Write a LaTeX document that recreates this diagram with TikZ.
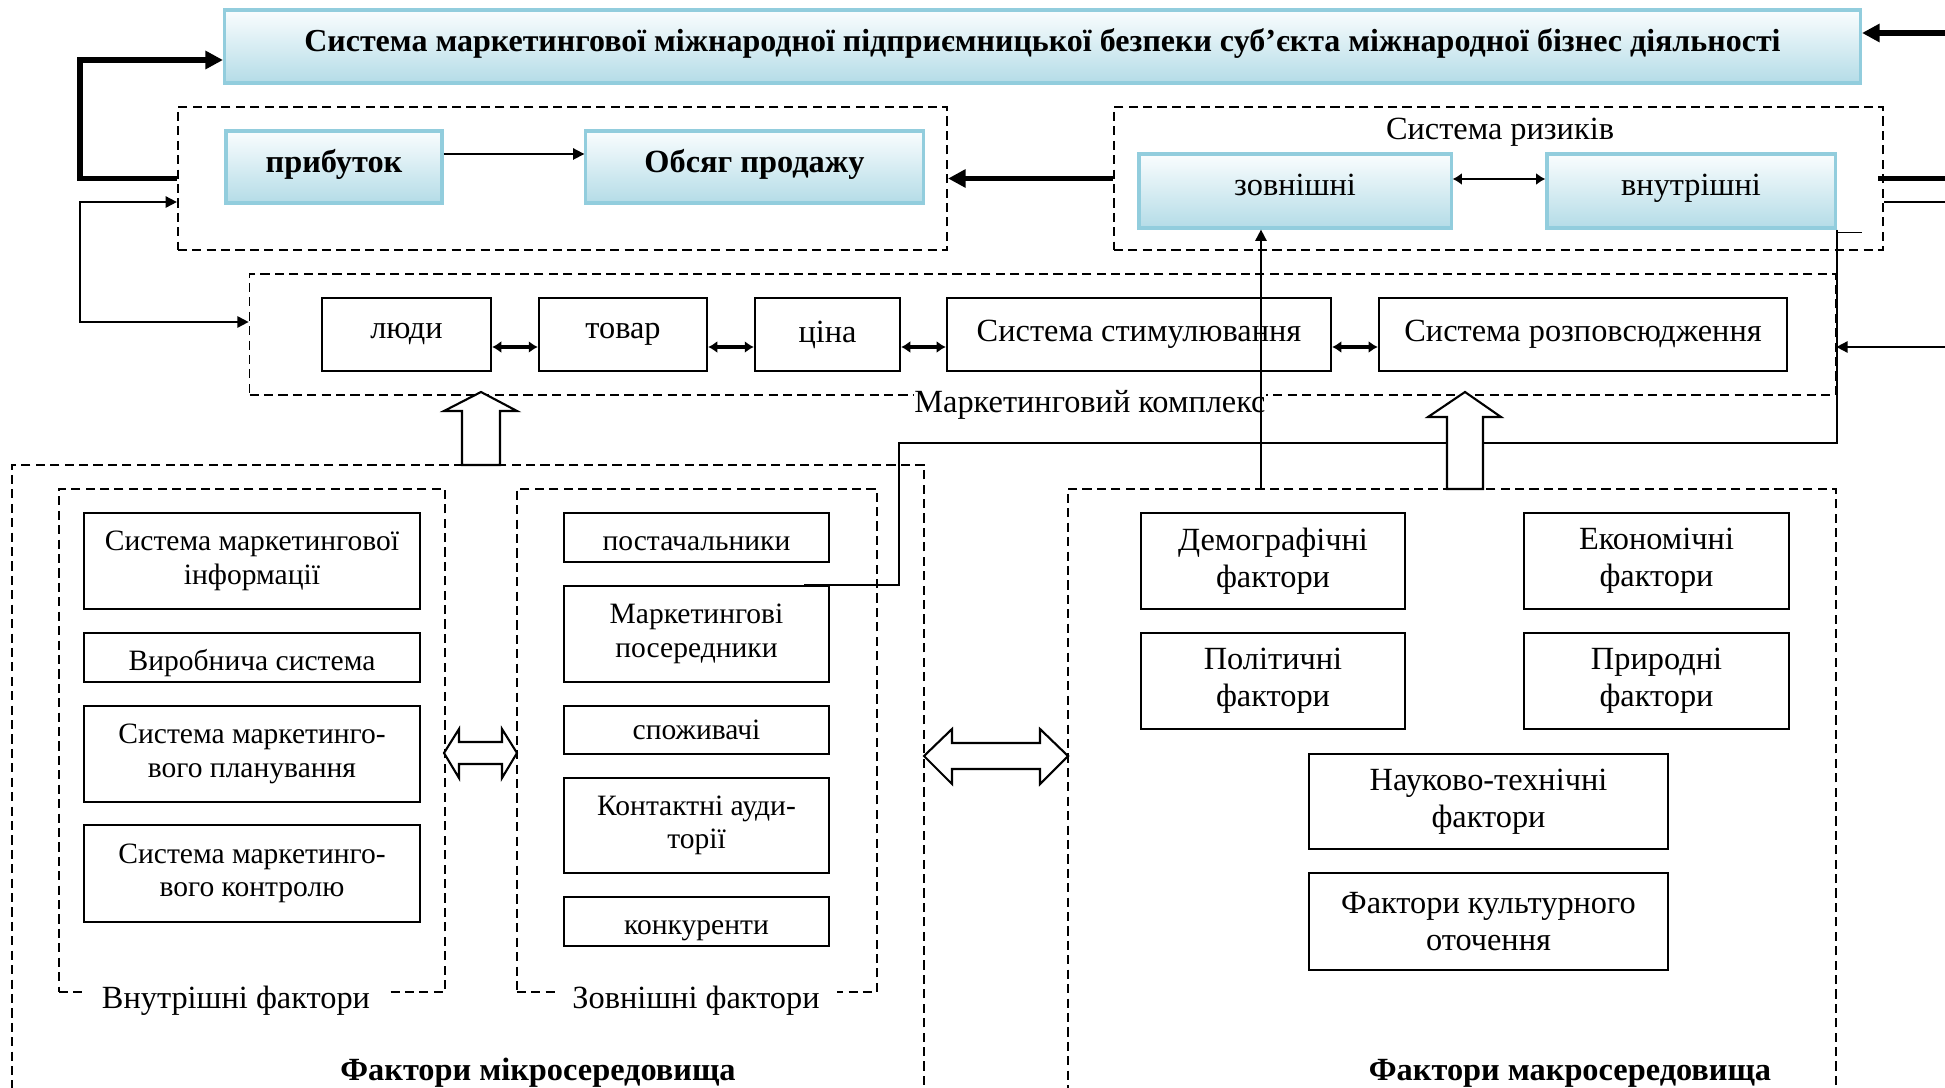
\documentclass[tikz,border=0pt]{standalone}
\usepackage{fontspec}
\setmainfont{Liberation Serif}
\usetikzlibrary{arrows.meta,calc}

\definecolor{boxtop}{RGB}{250,253,254}
\definecolor{boxbottom}{RGB}{180,220,231}
\definecolor{boxedge}{RGB}{146,205,221}

\begin{document}
\begin{tikzpicture}[x=0.01cm, y=-0.01cm,
    every node/.style={font=\fontsize{9.2}{10.4}\selectfont, align=center, inner sep=0pt},
    gradbox/.style={draw=boxedge, line width=0.9pt, top color=boxtop, bottom color=boxbottom, text depth=3.5pt},
    plainbox/.style={draw, line width=0.6pt, fill=white},
    microbox/.style={plainbox, font=\fontsize{8.4}{9.5}\selectfont},
    lowtext/.style={text height=9pt, text depth=1.5pt},
    groupbox/.style={draw, dash pattern=on 2.6pt off 1.5pt, line width=0.5pt},
    grouplabel/.style={anchor=base, fill=white, inner xsep=5pt, inner ysep=1pt},
    thickarr/.style={-{Triangle[length=5pt,width=5pt]}, line width=1.5pt},
    thinarr/.style={-{Triangle[length=3.2pt,width=3.2pt]}, line width=0.5pt},
    bothway/.style={{Latex[length=2.6pt,width=3.4pt]}-{Latex[length=2.6pt,width=3.4pt]}, line width=0.9pt},
    hollow/.style={draw, fill=white, line width=0.6pt}]

    % Page frame
    \path[use as bounding box, clip] (0,0) rectangle (1945,1088);

    % Top system box
    \node[gradbox, minimum width=16.35cm, minimum height=0.73cm, font=\fontsize{9.1}{11}\selectfont\bfseries]
        (title) at (1042.5,46.5) {Система маркетингової міжнародної підприємницької безпеки суб’єкта міжнародної бізнес діяльності};

    % Profit and sales group
    \node[groupbox, minimum width=7.69cm, minimum height=1.43cm] (results) at (562.5,178.5) {};
    \node[gradbox, minimum width=2.16cm, minimum height=0.72cm, font=\fontsize{9.2}{10.4}\selectfont\bfseries]
        (profit) at (334,167) {прибуток};
    \node[gradbox, minimum width=3.37cm, minimum height=0.72cm, font=\fontsize{9.2}{10.4}\selectfont\bfseries]
        (sales) at (754.5,167) {Обсяг продажу};

    % Risk system group
    \node[groupbox, minimum width=7.69cm, minimum height=1.43cm] (risks) at (1498.5,178.5) {};
    \node[anchor=base] (riskcap) at (1500,140) {Система ризиків};
    \node[gradbox, minimum width=3.12cm, minimum height=0.74cm] (extrisk) at (1295,191) {зовнішні};
    \node[gradbox, minimum width=2.88cm, minimum height=0.74cm] (intrisk) at (1691,191) {внутрішні};

    % Marketing complex
    \node[groupbox, minimum width=15.85cm, minimum height=1.21cm] (mix) at (1042.5,334.5) {};
    \node[plainbox, minimum width=1.69cm, minimum height=0.73cm] (people) at (406.5,334.5) {люди};
    \node[plainbox, minimum width=1.68cm, minimum height=0.73cm] (goods) at (623,334.5) {товар};
    \node[plainbox, minimum width=1.45cm, minimum height=0.73cm] (price) at (827.5,334.5) {ціна};
    \node[plainbox, minimum width=3.84cm, minimum height=0.73cm] (promo) at (1139,334.5) {Система стимулювання};
    \node[plainbox, minimum width=4.08cm, minimum height=0.73cm] (distr) at (1583,334.5) {Система розповсюдження};
    \node[anchor=base, fill=white, inner ysep=1pt] (mixcap) at (1090,412) {Маркетинговий комплекс};

    % Micro environment
    \node[groupbox, minimum width=9.12cm, minimum height=6.30cm] (micro) at (468,780) {};
    \node[groupbox, minimum width=3.86cm, minimum height=5.03cm] (inner) at (252,740.5) {};
    \node[groupbox, minimum width=3.60cm, minimum height=5.03cm] (outer) at (697,740.5) {};
    \node[grouplabel] (innercap) at (236,1008) {Внутрішні фактори};
    \node[grouplabel] (outercap) at (696,1008) {Зовнішні фактори};
    \node[anchor=base, font=\fontsize{9.2}{10.4}\selectfont\bfseries] (microcap) at (538,1080) {Фактори мікросередовища};

    % Internal factors
    \node[microbox, minimum width=3.36cm, minimum height=0.96cm] (info) at (252,561) {Система маркетингової\\інформації};
    \node[microbox, lowtext, minimum width=3.36cm, minimum height=0.49cm] (prod) at (252,657.5) {Виробнича система};
    \node[microbox, minimum width=3.36cm, minimum height=0.96cm] (plan) at (252,754) {Система маркетинго-\\вого планування};
    \node[microbox, minimum width=3.36cm, minimum height=0.97cm] (ctrl) at (252,873.5) {Система маркетинго-\\вого контролю};

    % External factors
    \node[microbox, lowtext, minimum width=2.65cm, minimum height=0.49cm] (suppl) at (696.5,537.5) {постачальники};
    \node[microbox, minimum width=2.65cm, minimum height=0.96cm] (inter) at (696.5,634) {Маркетингові\\посередники};
    \node[microbox, minimum width=2.65cm, minimum height=0.48cm] (cons) at (696.5,730) {споживачі};
    \node[microbox, minimum width=2.65cm, minimum height=0.95cm] (aud) at (696.5,825.5) {Контактні ауди-\\торії};
    \node[microbox, lowtext, minimum width=2.65cm, minimum height=0.49cm] (comp) at (696.5,921.5) {конкуренти};

    % Macro environment
    \node[groupbox, minimum width=7.68cm, minimum height=6.06cm] (macro) at (1452,792) {};
    \node[anchor=base, font=\fontsize{9.2}{10.4}\selectfont\bfseries] (macrocap) at (1570,1080) {Фактори макросередовища};
    \node[plainbox, minimum width=2.64cm, minimum height=0.96cm] (demo) at (1273,561) {Демографічні\\фактори};
    \node[plainbox, minimum width=2.65cm, minimum height=0.96cm] (econ) at (1656.5,561) {Економічні\\фактори};
    \node[plainbox, minimum width=2.64cm, minimum height=0.96cm] (pol) at (1273,681) {Політичні\\фактори};
    \node[plainbox, minimum width=2.65cm, minimum height=0.96cm] (nat) at (1656.5,681) {Природні\\фактори};
    \node[plainbox, minimum width=3.59cm, minimum height=0.95cm] (sci) at (1488.5,801.5) {Науково-технічні\\фактори};
    \node[plainbox, minimum width=3.59cm, minimum height=0.97cm] (cult) at (1488.5,921.5) {Фактори культурного\\оточення};

    % ---------- CONNECTORS ----------

    % Results back to the top box
    \draw[thickarr] (results.west) -- ++(-97,0) |- ([yshift=-0.135cm]title.west);

    % Feedback into results and marketing complex
    \draw[{Triangle[length=3.2pt,width=3.2pt]}-{Triangle[length=3.2pt,width=3.2pt]}, line width=0.5pt]
        ([yshift=-0.235cm]results.west) -- ++(-97,0) |- ([yshift=0.125cm]mix.west);

    % Profit to sales
    \draw[thinarr] ([yshift=0.13cm]profit.east) -- ([yshift=0.13cm]profit.east -| sales.west);

    % Risks to results
    \draw[thickarr] (risks.west) -- (results.east);

    % Between the two risks
    \draw[bothway, line width=0.6pt] ([yshift=0.12cm]extrisk.east) -- ([yshift=0.12cm]extrisk.east -| intrisk.west);

    % From the right edge
    \coordinate (edgetop) at (1945,33);
    \coordinate (edgemid) at (1945,347);
    \draw[thickarr] (edgetop) -- (edgetop -| title.east);
    \draw[line width=1.5pt] ([xshift=-0.06cm]risks.east) -- ++(68,0);
    \draw[line width=0.5pt] ([yshift=-0.235cm]risks.east) -- ++(62,0);
    \draw[thinarr] (edgemid) -- (edgemid -| mix.east);

    % Marketing complex chain
    \draw[bothway] ([yshift=-0.125cm]people.east) -- ([yshift=-0.125cm]people.east -| goods.west);
    \draw[bothway] ([yshift=-0.125cm]goods.east) -- ([yshift=-0.125cm]goods.east -| price.west);
    \draw[bothway] ([yshift=-0.125cm]price.east) -- ([yshift=-0.125cm]price.east -| promo.west);
    \draw[bothway] ([yshift=-0.125cm]promo.east) -- ([yshift=-0.125cm]promo.east -| distr.west);

    % Macro factors up to external risks
    \coordinate (extfoot) at ([xshift=-0.34cm]extrisk.south);
    \draw[thinarr] (extfoot |- macro.north) -- (extfoot);

    % Internal risks down to intermediaries
    \coordinate (bend) at (899,443);
    \draw[line width=0.5pt] ([yshift=-0.03cm]intrisk.south east) -- ++(25,0);
    \draw[line width=0.6pt] (intrisk.south east) |- (bend) |- ([xshift=-0.26cm]inter.north east);

    % Hollow block arrows
    \draw[hollow] (462,465) -- (462,411) -- (444,411) -- (481,392) -- (517,411) -- (500,411) -- (500,465) -- cycle;
    \draw[hollow] (1447,489) -- (1447,417) -- (1428,417) -- (1465,392) -- (1501,417) -- (1483,417) -- (1483,489) -- cycle;
    \draw[hollow] (444,753) -- (459,729) -- (459,742) -- (502,742) -- (502,729) -- (517,753)
        -- (502,778) -- (502,764) -- (459,764) -- (459,778) -- cycle;
    \draw[hollow] (924,756) -- (952,729) -- (952,743) -- (1040,743) -- (1040,729) -- (1068,756)
        -- (1040,784) -- (1040,769) -- (952,769) -- (952,784) -- cycle;

\end{tikzpicture}
\end{document}
